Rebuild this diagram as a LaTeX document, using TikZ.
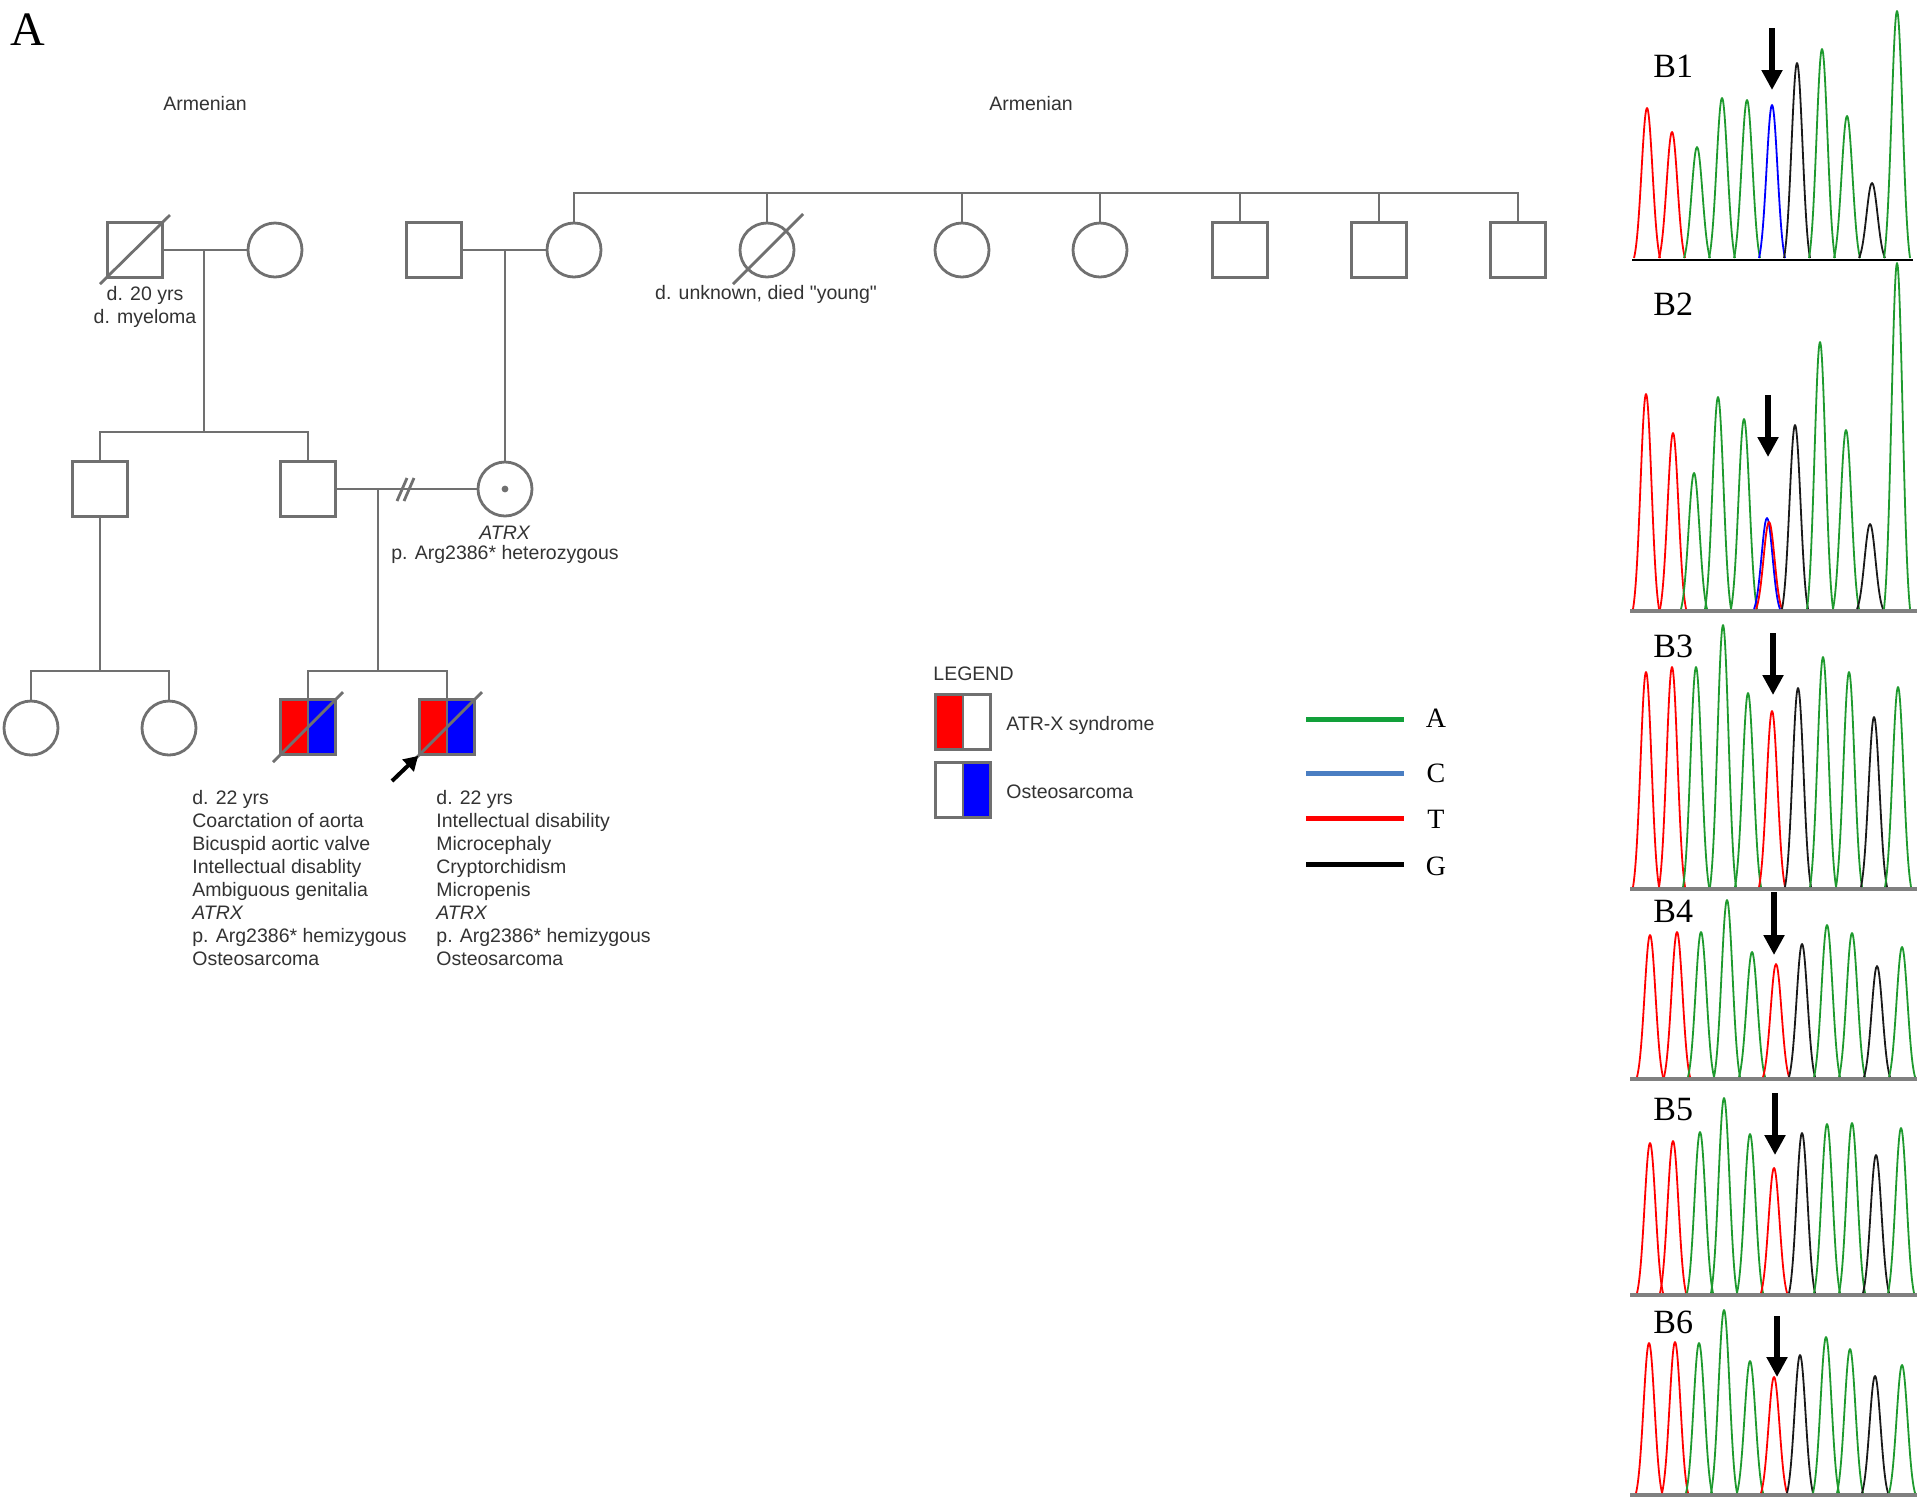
\documentclass[tikz,border=0pt]{standalone}
\usepackage{fontspec}
\setmainfont{Liberation Serif}
\newfontfamily\arialf{Liberation Sans}
\usetikzlibrary{arrows.meta,calc}
\definecolor{pgrey}{HTML}{707070}
\definecolor{ptxt}{HTML}{333333}
\definecolor{cgr}{HTML}{1E9A2E}
\definecolor{cbl}{HTML}{0000FF}
\definecolor{cred}{HTML}{FF0000}
\definecolor{ckb}{HTML}{1A1A1A}
\definecolor{lblue}{HTML}{4A7EC2}
\definecolor{lgreen}{HTML}{12A03A}
\definecolor{abase}{HTML}{808080}
% peak: color, centre x, top y, base y
\newcommand{\pk}[4]{\draw[draw=#1,line width=0.9pt,line join=round] plot[domain=#2-13:#2+13,samples=27,smooth] (\x,{#4-(#4-#3)*(exp(-((\x-#2)^2)/60.5)-0.0612)/0.9388});}
\begin{document}
\begin{tikzpicture}[x=0.5pt,y=-0.5pt,
  pline/.style={draw=pgrey,line width=1.4pt},
  sq/.style={rectangle,draw=pgrey,line width=1.4pt,minimum size=27.5pt,inner sep=0pt,fill=white},
  ci/.style={circle,draw=pgrey,line width=1.4pt,minimum size=27pt,inner sep=0pt,fill=white},
  affected/.style={path picture={\fill[cred] (path picture bounding box.north west) rectangle (path picture bounding box.south);\fill[cbl] (path picture bounding box.north) rectangle (path picture bounding box.south east);}},
  leftred/.style={path picture={\fill[cred] (path picture bounding box.north west) rectangle (path picture bounding box.south);}},
  rightblue/.style={path picture={\fill[cbl] (path picture bounding box.north) rectangle (path picture bounding box.south east);}},
  ptext/.style={font=\arialf\fontsize{9.75}{11.45}\selectfont,text=ptxt,inner sep=0pt},
  keyletter/.style={font=\fontsize{14}{14}\selectfont,anchor=base,inner sep=0pt},
  blabel/.style={font=\fontsize{17}{17}\selectfont,anchor=base west,inner sep=0pt},
  seqarrow/.style={line width=3.2pt,-{Triangle[width=10pt,length=10pt]}},
  keyline/.style={line width=2.5pt}
]
\fill[white] (0,0) rectangle (1920,1501);
\useasboundingbox (0,0) rectangle (1920,1501);

% ---------- labels
\node[font=\fontsize{24}{24}\selectfont,anchor=base west,inner sep=0pt] (lblA) at (10,45) {A};
\node[ptext,anchor=base] (ar1) at (205,110) {Armenian};
\node[ptext,anchor=base] (ar2) at (1031,110) {Armenian};

% ---------- generation I
\node[sq] (i1) at (135,250) {};
\node[ci] (i2) at (275,250) {};
\node[sq] (i3) at (434,250) {};
\node[ci] (i4) at (574,250) {};
\node[ci] (s1) at (767,250) {};
\node[ci] (s2) at (962,250) {};
\node[ci] (s3) at (1100,250) {};
\node[sq] (s4) at (1240,250) {};
\node[sq] (s5) at (1379,250) {};
\node[sq] (s6) at (1518,250) {};

\draw[pline] ([shift={(-35,34)}]i1.center) -- ([shift={(35,-35)}]i1.center);
\draw[pline] ([shift={(-34,34)}]s1.center) -- ([shift={(36,-36)}]s1.center);

\coordinate (m1) at (204,250);
\coordinate (m2) at (505,250);
\coordinate (sbr) at (1518,193);
\draw[pline] (i1) -- (i2);
\draw[pline] (i3) -- (i4);
\draw[pline] (i4.north) |- (sbr) -- (s6.north);
\foreach \n in {s1,s2,s3,s4,s5} {\draw[pline] (\n.north) -- (\n.north |- sbr);}

\node[ptext,anchor=base,align=center] (t1) at (145,323) {d. 20 yrs\\d. myeloma};
\node[ptext,anchor=base] (t2) at (766,299) {d. unknown, died "young"};

% ---------- generation II
\node[sq] (ii1) at (100,489) {};
\node[sq] (ii2) at (308,489) {};
\node[ci] (ii3) at (505,489) {};
\fill[pgrey] (ii3.center) circle (1.7pt);

\coordinate (sb1) at (204,432);
\draw[pline] (m1) -- (sb1);
\draw[pline] (ii1.north) |- (sb1) -| (ii2.north);
\draw[pline] (m2) -- (ii3.north);
\draw[pline] (ii2) -- (ii3);
\coordinate (ds) at (406,489);
\draw[pline] ([shift={(-9,12)}]ds) -- ([shift={(1,-11)}]ds);
\draw[pline] ([shift={(-2,12)}]ds) -- ([shift={(8,-11)}]ds);

\node[ptext,anchor=base,align=center,font=\arialf\fontsize{9.75}{10}\selectfont] (t3) at (505,559) {\textit{ATRX}\\p. Arg2386* heterozygous};

% ---------- generation III
\node[ci] (iii1) at (31,728) {};
\node[ci] (iii2) at (169,728) {};
\node[sq,affected] (iii3) at (308,727) {};
\node[sq,affected] (iii4) at (447,727) {};
\draw[pline] (iii3.north) -- (iii3.south);
\draw[pline] (iii4.north) -- (iii4.south);
\draw[pline] ([shift={(-35,35)}]iii3.center) -- ([shift={(35,-35)}]iii3.center);
\draw[pline] ([shift={(-35,35)}]iii4.center) -- ([shift={(35,-35)}]iii4.center);

\coordinate (m3) at (378,489);
\coordinate (sb3) at (378,671);
\coordinate (sb4) at (100,671);
\draw[pline] (m3) -- (sb3);
\draw[pline] (iii3.north) |- (sb3) -| (iii4.north);
\draw[pline] (ii1.south) -- (sb4);
\draw[pline] (iii1.north) |- (sb4) -| (iii2.north);

\coordinate (pa) at (392,781);
\draw[line width=2pt,-{Triangle[width=8pt,length=7pt]}] (pa) -- (iii4.south west);

\node[ptext,anchor=base west,align=left] (t4) at (192,965) {d. 22 yrs\\Coarctation of aorta\\Bicuspid aortic valve\\Intellectual disablity\\Ambiguous genitalia\\\textit{ATRX}\\p. Arg2386* hemizygous\\Osteosarcoma};
\node[ptext,anchor=base west,align=left] (t5) at (436,965) {d. 22 yrs\\Intellectual disability\\Microcephaly\\Cryptorchidism\\Micropenis\\\textit{ATRX}\\p. Arg2386* hemizygous\\Osteosarcoma};

% ---------- legend
\node[ptext,anchor=base west] (lg) at (933,680) {LEGEND};
\node[sq,leftred] (lb1) at (963,722) {};
\node[sq,rightblue] (lb2) at (963,790) {};
\draw[pline] (lb1.north) -- (lb1.south);
\draw[pline] (lb2.north) -- (lb2.south);
\node[ptext,anchor=base west] (lt1) at (1006,730) {ATR-X syndrome};
\node[ptext,anchor=base west] (lt2) at (1006,798) {Osteosarcoma};

% ---------- base colour key
\coordinate (ka1) at (1306,719); \coordinate (ka2) at (1404,719);
\coordinate (kc1) at (1306,773); \coordinate (kc2) at (1404,773);
\coordinate (kt1) at (1306,818); \coordinate (kt2) at (1404,818);
\coordinate (kg1) at (1306,864); \coordinate (kg2) at (1404,864);
\draw[keyline,lgreen] (ka1) -- (ka2);
\draw[keyline,lblue] (kc1) -- (kc2);
\draw[keyline,cred] (kt1) -- (kt2);
\draw[keyline,black] (kg1) -- (kg2);
\node[keyletter] (la) at (1436,727) {A};
\node[keyletter] (lc) at (1436,782) {C};
\node[keyletter] (lt) at (1436,828) {T};
\node[keyletter] (lgg) at (1436,875) {G};

% ---------- chromatograms
\node[blabel] (b1) at (1653,77) {B1};
\node[blabel] (b2) at (1653,315) {B2};
\node[blabel] (b3) at (1653,657) {B3};
\node[blabel] (b4) at (1653,922) {B4};
\node[blabel] (b5) at (1653,1120) {B5};
\node[blabel] (b6) at (1653,1333) {B6};

% baselines
\draw[black,line width=0.7pt] (1632,260) -- (1913,260);
\foreach \yb in {611,889,1079,1295,1495} {\draw[abase,line width=2pt] (1630,\yb) -- (1917,\yb);}

% B1
\foreach \kc/\kx/\kt in {cred/1647/108,cred/1672/132,cgr/1697/147,cgr/1722/98,cgr/1747/100,cbl/1772/105,ckb/1797/63,cgr/1822/49,cgr/1847/116,ckb/1872/183,cgr/1897/11}{\pk{\kc}{\kx}{\kt}{258}}
% B2
\foreach \kc/\kx/\kt in {cred/1646/394,cred/1673/433,cgr/1694/473,cgr/1718/397,cgr/1744/419,cbl/1767/518,cred/1769/522,ckb/1795/425,cgr/1820/342,cgr/1846/430,ckb/1870/524,cgr/1897/263}{\pk{\kc}{\kx}{\kt}{609}}
% B3
\foreach \kc/\kx/\kt in {cred/1646/672,cred/1672/667,cgr/1696/667,cgr/1723/625,cgr/1748/693,cred/1772/711,ckb/1798/688,cgr/1823/657,cgr/1849/672,ckb/1874/717,cgr/1898/687}{\pk{\kc}{\kx}{\kt}{887}}
% B4
\foreach \kc/\kx/\kt in {cred/1650/935,cred/1677/932,cgr/1701/932,cgr/1727/900,cgr/1752/952,cred/1776/964,ckb/1802/944,cgr/1827/925,cgr/1852/933,ckb/1877/966,cgr/1902/947}{\pk{\kc}{\kx}{\kt}{1077}}
% B5
\foreach \kc/\kx/\kt in {cred/1650/1143,cred/1673/1141,cgr/1700/1132,cgr/1724/1098,cgr/1750/1134,cred/1774/1168,ckb/1802/1133,cgr/1827/1124,cgr/1852/1123,ckb/1876/1155,cgr/1901/1128}{\pk{\kc}{\kx}{\kt}{1293}}
% B6
\foreach \kc/\kx/\kt in {cred/1649/1343,cred/1675/1342,cgr/1699/1343,cgr/1724/1310,cgr/1750/1361,cred/1774/1377,ckb/1800/1355,cgr/1826/1337,cgr/1850/1349,ckb/1875/1376,cgr/1902/1365}{\pk{\kc}{\kx}{\kt}{1493}}

% arrows
\coordinate (a1s) at (1772,28);   \coordinate (a1e) at (1772,90);
\coordinate (a2s) at (1768,395);  \coordinate (a2e) at (1768,457);
\coordinate (a3s) at (1773,633);  \coordinate (a3e) at (1773,695);
\coordinate (a4s) at (1774,892);  \coordinate (a4e) at (1774,955);
\coordinate (a5s) at (1775,1093); \coordinate (a5e) at (1775,1155);
\coordinate (a6s) at (1777,1316); \coordinate (a6e) at (1777,1377);
\foreach \n in {1,...,6} {\draw[seqarrow] (a\n s) -- (a\n e);}
\end{tikzpicture}
\end{document}
